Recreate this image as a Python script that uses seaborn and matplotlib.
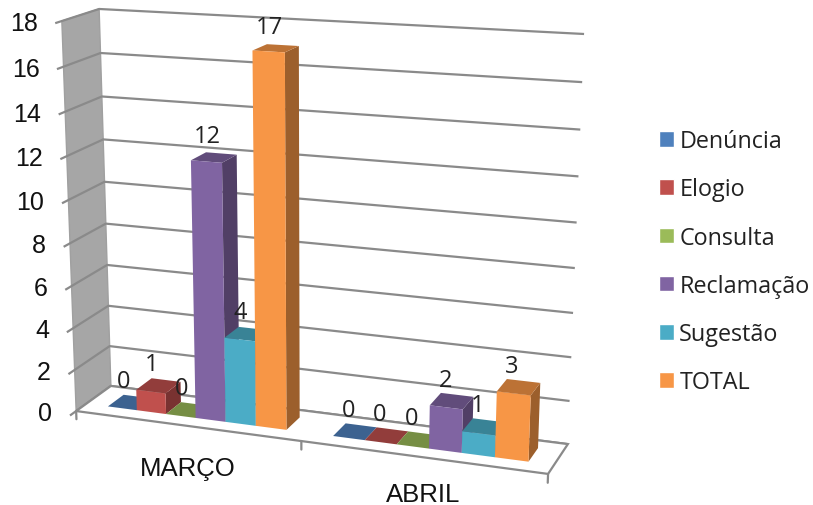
import numpy as np
import pandas as pd
import matplotlib
matplotlib.use("Agg")
import matplotlib.pyplot as plt
from matplotlib.patches import Polygon
from matplotlib.transforms import Transform, IdentityTransform
import seaborn as sns

# Chart data
months = ["MARÇO", "ABRIL"]
kinds = ["Denúncia", "Elogio", "Consulta", "Reclamação", "Sugestão", "TOTAL"]
denuncia = [0, 0]
elogio = [1, 0]
consulta = [0, 0]
reclamacao = [12, 2]
sugestao = [4, 1]
total = [17, 3]
colors = ["#4f81bd", "#c0504d", "#9bbb59", "#8064a2", "#4bacc6", "#f79646"]
value_ticks = list(range(0, 19, 2))

WIDTH, HEIGHT = 813, 506
Y_MAX = 18
X_MIN, X_MAX = -0.5, 1.5
BAR_FRONT, BAR_BACK = 0.71, 0.25

# Camera: (category span, value span, depth) -> image pixel, solved from the box corners
box_corners = [
    ((0, 0, 0), (110, 387)), ((1, 0, 0), (568, 445)),
    ((0, 1, 0), (100, 10)), ((1, 1, 0), (584, 35)),
    ((0, 0, 1), (77, 412)), ((1, 0, 1), (548, 475)),
    ((0, 1, 1), (61, 22)),
]
rows, rhs = [], []
for (a, b, c), (px, py) in box_corners:
    rows.append([a, b, c, 1, 0, 0, 0, 0, -px * a, -px * b, -px * c])
    rows.append([0, 0, 0, 0, a, b, c, 1, -py * a, -py * b, -py * c])
    rhs += [px, py]
camera = np.append(np.linalg.lstsq(np.array(rows, float), np.array(rhs, float), rcond=None)[0], 1).reshape(3, 4)


def project(x, y, depth):
    """Data position and depth to display pixels."""
    x, y = np.asarray(x, float), np.asarray(y, float)
    depth = np.broadcast_to(depth, x.shape)
    pts = np.stack([(x - X_MIN) / (X_MAX - X_MIN), y / Y_MAX, depth, np.ones_like(x)], axis=-1)
    h = pts @ camera.T
    return np.stack([h[..., 0] / h[..., 2], HEIGHT - h[..., 1] / h[..., 2]], axis=-1)


class DepthPlane(Transform):
    """Maps (x, value) on a plane of constant depth to display pixels."""
    input_dims = output_dims = 2
    is_affine = False

    def __init__(self, plane_depth):
        super().__init__()
        self.plane_depth = plane_depth

    def transform_non_affine(self, values):
        values = np.asarray(values, float)
        return project(values[:, 0], values[:, 1], self.plane_depth)


sns.set_theme(style="white")
plt.rcParams["font.family"] = ["Liberation Sans", "DejaVu Sans"]

df = pd.DataFrame({
    "month": months * len(kinds),
    "kind": np.repeat(kinds, len(months)),
    "count": denuncia + elogio + consulta + reclamacao + sugestao + total,
})

fig = plt.figure(figsize=(WIDTH / 100, HEIGHT / 100), dpi=100, facecolor="white")
ax = fig.add_axes([0, 0, 1, 1])
sns.barplot(data=df, x="month", y="count", hue="kind", hue_order=kinds, order=months,
            palette=colors, saturation=1, width=0.8, gap=0, ax=ax, errorbar=None)
ax.set_axis_off()

pixels = IdentityTransform()
grid_color = "#8a8a8a"
axis_color = "#a0a0a0"

# Side wall
wall = project([X_MIN] * 4, [0, 0, Y_MAX, Y_MAX], np.array([0, 1, 1, 0]))
ax.add_patch(Polygon(wall, closed=True, transform=pixels, facecolor="#a6a6a6",
                     edgecolor=axis_color, lw=1, zorder=0.2))

# Gridlines across the back and side walls, running out to the tick on the front edge
for v in value_ticks:
    line = project([X_MAX, X_MIN, X_MIN], [v, v, v], np.array([0, 0, 1.17]))
    ax.plot(line[:, 0], line[:, 1], transform=pixels, color=grid_color, lw=1.6,
            solid_capstyle="butt", zorder=0.5)
    ax.annotate(str(v), xy=(X_MIN, v), xycoords=DepthPlane(1.0), xytext=(-24, -2),
                textcoords="offset pixels", ha="right", va="center", fontsize=18, color="#111111")

# Floor outline and the ticks between categories
floor = project([X_MIN, X_MAX, X_MAX, X_MIN], [0, 0, 0, 0], np.array([1, 1, 0, 0]))
ax.add_patch(Polygon(floor, closed=True, transform=pixels, facecolor="white",
                     edgecolor=grid_color, lw=1.6, zorder=0.6))
for x in [X_MIN, 0.5, X_MAX]:
    tick = project([x, x], [0, -0.4], 1.0)
    ax.plot(tick[:, 0], tick[:, 1], transform=pixels, color=grid_color, lw=1.6, zorder=0.6)

# Give each seaborn bar its depth: front face on the front plane, then side and top faces
bars = sorted((b for c in ax.containers for b in c), key=lambda b: b.get_x())
front_plane = DepthPlane(BAR_FRONT)
for i, bar in enumerate(bars):
    x0, x1, h = bar.get_x(), bar.get_x() + bar.get_width(), bar.get_height()
    base = np.array(bar.get_facecolor()[:3])
    z = 3 + i * 0.1
    side = project([x1, x1, x1, x1], [0, h, h, 0], np.array([BAR_FRONT, BAR_FRONT, BAR_BACK, BAR_BACK]))
    top = project([x0, x1, x1, x0], [h, h, h, h], np.array([BAR_FRONT, BAR_FRONT, BAR_BACK, BAR_BACK]))
    ax.add_patch(Polygon(side, closed=True, transform=pixels, facecolor=base * 0.63, lw=0, zorder=z))
    ax.add_patch(Polygon(top, closed=True, transform=pixels, facecolor=base * 0.76, lw=0, zorder=z))
    bar.set_transform(front_plane)
    bar.set_linewidth(0)
    bar.set_zorder(z + 0.01)
    ax.annotate(f"{h:.0f}", xy=((x0 + x1) / 2, h), xycoords=DepthPlane((BAR_FRONT + BAR_BACK) / 2),
                xytext=(-6.5, 21.5), textcoords="offset pixels", ha="center", va="center",
                fontsize=17, family="Open Sans", color="#222222", zorder=10)

# Category labels
for x, name in enumerate(months):
    ax.annotate(name, xy=(x, 0), xycoords=DepthPlane(1.0), xytext=(2 if x == 0 else 1, -42 if x == 0 else -37),
                textcoords="offset pixels", ha="center", va="center", fontsize=18.5, color="#111111")

sns.move_legend(ax, "upper left", bbox_to_anchor=(659 / WIDTH, 1 - 130 / HEIGHT), frameon=False, title=None,
                prop={"family": "Open Sans", "size": 16.8}, handlelength=0.65, handleheight=0.65,
                handletextpad=0.22, labelspacing=1.04, borderpad=0, borderaxespad=0,
                labelcolor="#222222")

fig.savefig("out.png", dpi=100, facecolor="white")
